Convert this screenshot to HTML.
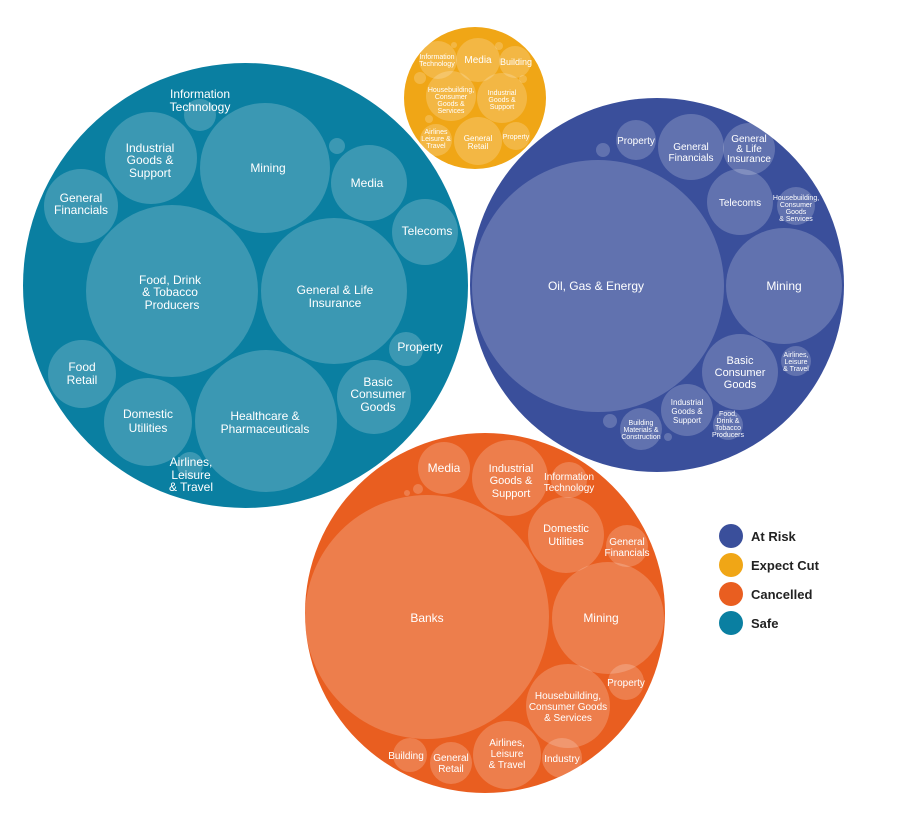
<!DOCTYPE html>
<html><head><meta charset="utf-8"><style>
html,body{margin:0;padding:0;background:#fff;}
svg{display:block;}
text{font-family:"Liberation Sans",Arial,sans-serif;fill:#fff;text-anchor:middle;}
.c{fill:#fff;fill-opacity:0.2;}
.lg{fill:#222;text-anchor:start;font-weight:bold;font-size:13px;}
</style></head><body>
<svg width="904" height="819" viewBox="0 0 904 819">
<!-- Safe (teal) -->
<circle cx="245.5" cy="285.5" r="222.5" fill="#0a7fa1"/>
<g class="c">
<circle cx="200" cy="115" r="16"/>
<circle cx="151" cy="158" r="46"/>
<circle cx="265" cy="168" r="65"/>
<circle cx="337" cy="146" r="8"/>
<circle cx="369" cy="183" r="38"/>
<circle cx="81" cy="206" r="37"/>
<circle cx="425" cy="232" r="33"/>
<circle cx="172" cy="291" r="86"/>
<circle cx="334" cy="291" r="73"/>
<circle cx="406" cy="349" r="17"/>
<circle cx="82" cy="374" r="34"/>
<circle cx="374" cy="397" r="37"/>
<circle cx="148" cy="422" r="44"/>
<circle cx="266" cy="421" r="71"/>
<circle cx="190" cy="465" r="13"/>
</g>
<g font-size="12">
<text x="200" y="98">Information</text><text x="200" y="111">Technology</text>
<text x="150" y="152">Industrial</text><text x="150" y="164">Goods &amp;</text><text x="150" y="177">Support</text>
<text x="268" y="172">Mining</text>
<text x="367" y="187">Media</text>
<text x="81" y="202">General</text><text x="81" y="214">Financials</text>
<text x="427" y="235">Telecoms</text>
<text x="170" y="284">Food, Drink</text><text x="170" y="296">&amp; Tobacco</text><text x="172" y="309">Producers</text>
<text x="335" y="294">General &amp; Life</text><text x="335" y="307">Insurance</text>
<text x="420" y="351">Property</text>
<text x="82" y="371">Food</text><text x="82" y="384">Retail</text>
<text x="378" y="386">Basic</text><text x="378" y="398">Consumer</text><text x="378" y="411">Goods</text>
<text x="148" y="418">Domestic</text><text x="148" y="432">Utilities</text>
<text x="265" y="420">Healthcare &amp;</text><text x="265" y="433">Pharmaceuticals</text>
<text x="191" y="466">Airlines,</text><text x="191" y="479">Leisure</text><text x="191" y="491">&amp; Travel</text>
</g>

<!-- Expect cut (yellow) -->
<circle cx="475" cy="98" r="71" fill="#f0a616"/>
<g class="c">
<circle cx="438" cy="60" r="19"/>
<circle cx="478" cy="60" r="22"/>
<circle cx="515" cy="62" r="16"/>
<circle cx="451" cy="96" r="25"/>
<circle cx="502" cy="98" r="25"/>
<circle cx="436" cy="140" r="16"/>
<circle cx="478" cy="141" r="24"/>
<circle cx="516" cy="136" r="14"/>
<circle cx="420" cy="78" r="6"/>
<circle cx="499" cy="46" r="4"/>
<circle cx="523" cy="79" r="4"/>
<circle cx="429" cy="119" r="4"/>
<circle cx="454" cy="45" r="3"/>
</g>
<g font-size="7">
<text x="437" y="59">Information</text><text x="437" y="66">Technology</text>
<text x="478" y="63" font-size="10">Media</text>
<text x="516" y="65" font-size="9">Building</text>
<text x="451" y="92">Housebuilding,</text><text x="451" y="99">Consumer</text><text x="451" y="106">Goods &amp;</text><text x="451" y="113">Services</text>
<text x="502" y="95">Industrial</text><text x="502" y="102">Goods &amp;</text><text x="502" y="109">Support</text>
<text x="436" y="134">Airlines</text><text x="436" y="141">Leisure &amp;</text><text x="436" y="148">Travel</text>
<text x="478" y="141" font-size="8">General</text><text x="478" y="149" font-size="8">Retail</text>
<text x="516" y="139">Property</text>
</g>

<!-- At risk (blue) -->
<circle cx="657" cy="285" r="187" fill="#3a4f9b"/>
<g class="c">
<circle cx="598" cy="286" r="126"/>
<circle cx="636" cy="140" r="20"/>
<circle cx="603" cy="150" r="7"/>
<circle cx="691" cy="147" r="33"/>
<circle cx="749" cy="149" r="26"/>
<circle cx="740" cy="202" r="33"/>
<circle cx="796" cy="206" r="19"/>
<circle cx="784" cy="286" r="58"/>
<circle cx="740" cy="372" r="38"/>
<circle cx="796" cy="361" r="15"/>
<circle cx="687" cy="410" r="26"/>
<circle cx="728" cy="425" r="15"/>
<circle cx="641" cy="429" r="21"/>
<circle cx="610" cy="421" r="7"/>
<circle cx="668" cy="437" r="4"/>
</g>
<g font-size="11">
<text x="596" y="290" font-size="12">Oil, Gas &amp; Energy</text>
<text x="636" y="144" font-size="10">Property</text>
<text x="691" y="150" font-size="10">General</text><text x="691" y="161" font-size="10">Financials</text>
<text x="749" y="142" font-size="10">General</text><text x="749" y="152" font-size="10">&amp; Life</text><text x="749" y="162" font-size="10">Insurance</text>
<text x="740" y="206" font-size="10">Telecoms</text>
<text x="796" y="200" font-size="7">Housebuilding,</text><text x="796" y="207" font-size="7">Consumer</text><text x="796" y="214" font-size="7">Goods</text><text x="796" y="221" font-size="7">&amp; Services</text>
<text x="784" y="290" font-size="12">Mining</text>
<text x="740" y="364">Basic</text><text x="740" y="376">Consumer</text><text x="740" y="388">Goods</text>
<text x="796" y="357" font-size="7">Airlines,</text><text x="796" y="364" font-size="7">Leisure</text><text x="796" y="371" font-size="7">&amp; Travel</text>
<text x="687" y="405" font-size="8">Industrial</text><text x="687" y="414" font-size="8">Goods &amp;</text><text x="687" y="423" font-size="8">Support</text>
<text x="728" y="416" font-size="7">Food,</text><text x="728" y="423" font-size="7">Drink &amp;</text><text x="728" y="430" font-size="7">Tobacco</text><text x="728" y="437" font-size="7">Producers</text>
<text x="641" y="425" font-size="7">Building</text><text x="641" y="432" font-size="7">Materials &amp;</text><text x="641" y="439" font-size="7">Construction</text>
</g>

<!-- Cancelled (orange) -->
<circle cx="485" cy="613" r="180" fill="#e95e20"/>
<g class="c">
<circle cx="427" cy="617" r="122"/>
<circle cx="444" cy="468" r="26"/>
<circle cx="510" cy="478" r="38"/>
<circle cx="569" cy="480" r="18"/>
<circle cx="566" cy="535" r="38"/>
<circle cx="627" cy="546" r="21"/>
<circle cx="608" cy="618" r="56"/>
<circle cx="626" cy="682" r="18"/>
<circle cx="568" cy="706" r="42"/>
<circle cx="507" cy="755" r="34"/>
<circle cx="562" cy="758" r="20"/>
<circle cx="451" cy="763" r="21"/>
<circle cx="410" cy="755" r="17"/>
<circle cx="418" cy="489" r="5"/>
<circle cx="407" cy="493" r="3"/>
</g>
<g font-size="11">
<text x="427" y="622" font-size="12">Banks</text>
<text x="444" y="472" font-size="12">Media</text>
<text x="511" y="472">Industrial</text><text x="511" y="484">Goods &amp;</text><text x="511" y="497">Support</text>
<text x="569" y="480" font-size="10">Information</text><text x="569" y="491" font-size="10">Technology</text>
<text x="566" y="532">Domestic</text><text x="566" y="545">Utilities</text>
<text x="627" y="545" font-size="10">General</text><text x="627" y="556" font-size="10">Financials</text>
<text x="601" y="622" font-size="12">Mining</text>
<text x="626" y="686" font-size="10">Property</text>
<text x="568" y="699" font-size="10">Housebuilding,</text><text x="568" y="710" font-size="10">Consumer Goods</text><text x="568" y="721" font-size="10">&amp; Services</text>
<text x="507" y="746" font-size="10">Airlines,</text><text x="507" y="757" font-size="10">Leisure</text><text x="507" y="768" font-size="10">&amp; Travel</text>
<text x="562" y="762" font-size="10">Industry</text>
<text x="451" y="761" font-size="10">General</text><text x="451" y="772" font-size="10">Retail</text>
<text x="406" y="759" font-size="10">Building</text>
</g>

<!-- Legend -->
<circle cx="731" cy="536" r="12" fill="#3a4f9b"/>
<circle cx="731" cy="565" r="12" fill="#f0a616"/>
<circle cx="731" cy="594" r="12" fill="#e95e20"/>
<circle cx="731" cy="623" r="12" fill="#0a7fa1"/>
<text class="lg" x="751" y="541">At Risk</text>
<text class="lg" x="751" y="570">Expect Cut</text>
<text class="lg" x="751" y="599">Cancelled</text>
<text class="lg" x="751" y="628">Safe</text>
</svg>
</body></html>
